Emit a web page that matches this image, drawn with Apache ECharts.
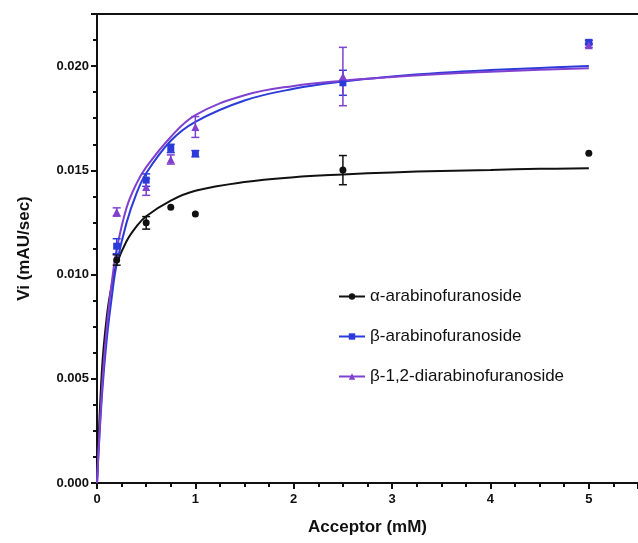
<!DOCTYPE html>
<html>
<head>
<meta charset="utf-8">
<script src="https://cdn.jsdelivr.net/npm/echarts@6/dist/echarts.min.js"></script>
<style>
  html, body { margin: 0; padding: 0; background: #fff; }
  #chart { width: 638px; height: 543px; }
</style>
</head>
<body>
<div id="chart"></div>
<script>
// Fitted curves
const fitX = [0, 0.05, 0.1, 0.15, 0.2, 0.3, 0.4, 0.5, 0.75, 1, 1.5, 2, 2.5, 3, 3.5, 4, 4.5, 5];
const alphaFit = [0, 0.0054, 0.0080, 0.0095, 0.0105, 0.0116, 0.0123, 0.0128, 0.01355, 0.01402, 0.01444, 0.01467, 0.0148, 0.0149, 0.01497, 0.01502, 0.01507, 0.0151];
const betaFit = [0, 0.00416, 0.00693, 0.00891, 0.0105, 0.01248, 0.01387, 0.01486, 0.01642, 0.01733, 0.01835, 0.01891, 0.01926, 0.0195, 0.01968, 0.01981, 0.01991, 0.0200];
const diFit = [0, 0.0045, 0.0075, 0.0096, 0.0112, 0.0132, 0.01435, 0.01515, 0.0166, 0.01765, 0.0186, 0.01905, 0.0193, 0.01948, 0.01962, 0.01973, 0.01982, 0.0199];

// Measured points (mean, error)
const concX = [0.2, 0.5, 0.75, 1, 2.5, 5];
const alphaMean = [0.0107, 0.01248, 0.01323, 0.0129, 0.01501, 0.01582];
const alphaErr = [0.00025, 0.0003, 0, 0, 0.0007, 0];
const betaMean = [0.01136, 0.01453, 0.01605, 0.0158, 0.0192, 0.02114];
const betaErr = [0.00036, 0.0003, 0.0002, 0.00015, 0.0006, 0.0001];
const diMean = [0.0130, 0.0142, 0.01552, 0.01708, 0.0195, 0.0210];
const diErr = [0.0002, 0.0004, 0.00022, 0.0005, 0.0014, 0.0001];

const names = ['\u03b1-arabinofuranoside', '\u03b2-arabinofuranoside', '\u03b2-1,2-diarabinofuranoside'];
const colors = ['#111111', '#2b3bd9', '#8040d0'];
const symbols = ['circle', 'rect', 'triangle'];

const zip = (xs, ys) => xs.map((x, i) => [x, ys[i]]);

function errorSeries(name, mean, err, color) {
  return {
    name: name,
    type: 'custom',
    z: 3,
    data: concX.map((x, i) => [x, mean[i], err[i]]),
    renderItem: (params, api) => {
      const x = api.value(0), y = api.value(1), e = api.value(2);
      if (!e) return null;
      const top = api.coord([x, y + e]);
      const bot = api.coord([x, y - e]);
      const w = 4;
      const style = { stroke: color, lineWidth: 1.5 };
      return {
        type: 'group',
        children: [
          { type: 'line', shape: { x1: top[0], y1: top[1], x2: bot[0], y2: bot[1] }, style },
          { type: 'line', shape: { x1: top[0] - w, y1: top[1], x2: top[0] + w, y2: top[1] }, style },
          { type: 'line', shape: { x1: bot[0] - w, y1: bot[1], x2: bot[0] + w, y2: bot[1] }, style }
        ]
      };
    }
  };
}

const fits = [alphaFit, betaFit, diFit];
const means = [alphaMean, betaMean, diMean];
const errs = [alphaErr, betaErr, diErr];

const series = [];
names.forEach((name, i) => {
  series.push({
    name: name,
    type: 'line',
    data: zip(fitX, fits[i]),
    smooth: 0.4,
    symbol: symbols[i],
    showSymbol: false,
    lineStyle: { color: colors[i], width: 2 },
    itemStyle: { color: colors[i] },
    z: 2
  });
});
names.forEach((name, i) => {
  series.push(errorSeries(name, means[i], errs[i], colors[i]));
  series.push({
    name: name,
    type: 'scatter',
    data: zip(concX, means[i]),
    symbol: symbols[i],
    symbolSize: i === 2 ? 8 : 7,
    itemStyle: { color: colors[i], opacity: 1 },
    z: 4
  });
});

const chart = echarts.init(document.getElementById('chart'));
chart.setOption({
  animation: false,
  textStyle: { fontFamily: 'Liberation Sans, Arial, sans-serif' },
  grid: { left: 97, top: 14, right: -3, bottom: 60 },
  legend: {
    data: names,
    orient: 'vertical',
    left: 333,
    top: 283,
    itemGap: 23,
    itemWidth: 26,
    itemHeight: 8,
    textStyle: { fontSize: 17, color: '#111' }
  },
  xAxis: [{
    type: 'value',
    min: 0,
    max: 5.5,
    interval: 1,
    name: 'Acceptor (mM)',
    nameLocation: 'middle',
    nameGap: 36,
    nameTextStyle: { fontSize: 17, fontWeight: 'bold', color: '#111' },
    axisLine: { lineStyle: { color: '#111', width: 2 } },
    axisTick: { length: 6, lineStyle: { width: 2, color: '#111' } },
    minorTick: { show: true, splitNumber: 4, length: 4, lineStyle: { width: 2, color: '#111' } },
    axisLabel: { fontSize: 13, fontWeight: 'bold', color: '#111', margin: 10, showMaxLabel: false },
    splitLine: { show: false }
  }, {
    type: 'value',
    position: 'top',
    min: 0,
    max: 5.5,
    axisLine: { show: true, lineStyle: { color: '#111', width: 2 } },
    axisTick: { show: false },
    axisLabel: { show: false },
    splitLine: { show: false }
  }],
  yAxis: {
    type: 'value',
    min: 0,
    max: 0.0225,
    interval: 0.005,
    name: 'Vi (mAU/sec)',
    nameLocation: 'middle',
    nameGap: 64,
    nameTextStyle: { fontSize: 17, fontWeight: 'bold', color: '#111' },
    axisLine: { show: true, lineStyle: { color: '#111', width: 2 } },
    axisTick: { length: 6, lineStyle: { width: 2, color: '#111' } },
    minorTick: { show: true, splitNumber: 4, length: 4, lineStyle: { width: 2, color: '#111' } },
    axisLabel: {
      fontSize: 13, fontWeight: 'bold', color: '#111', margin: 8, showMaxLabel: false,
      formatter: v => v.toFixed(3)
    },
    splitLine: { show: false }
  },
  series: series
});
</script>
</body>
</html>
